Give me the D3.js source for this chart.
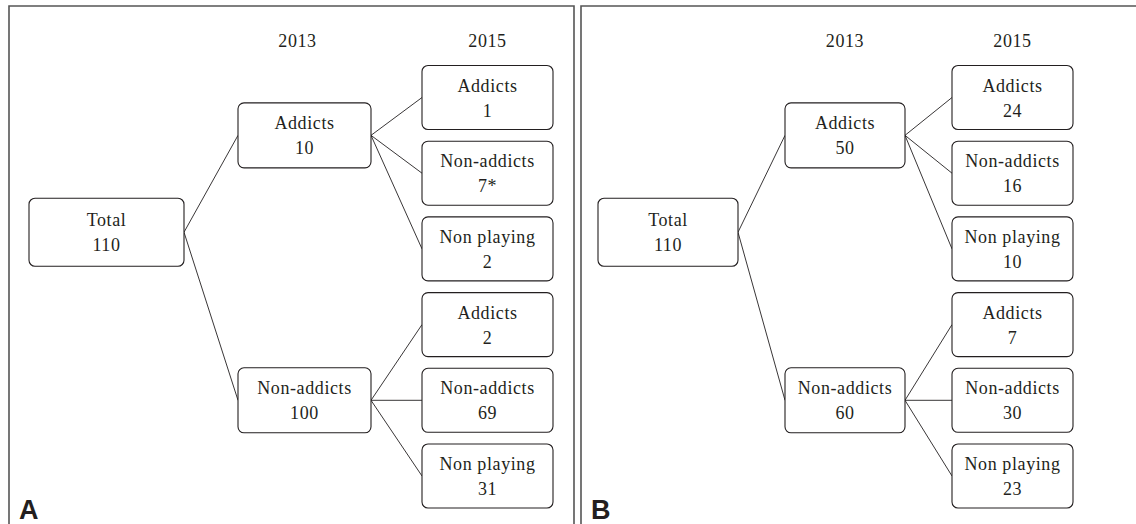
<!DOCTYPE html>
<html>
  <head>
    <script src="https://cdnjs.cloudflare.com/ajax/libs/d3/7.8.5/d3.min.js"></script>
    <style>
      body { margin: 0; background: #fff; }
      .box { fill: #fff; stroke: #231f20; stroke-width: 1.1; }
      .link { stroke: #231f20; stroke-width: 0.9; fill: none; }
      .lbl { font-family: "Liberation Serif", "Times New Roman", serif; font-size: 18px; fill: #231f20; letter-spacing: 0.6px; }
      .panelTag { font-family: "Liberation Sans", Arial, sans-serif; font-weight: bold; font-size: 27px; fill: #231f20; }
      .frame { stroke: #555; stroke-width: 1.6; fill: none; }
    </style>
  </head>
  <body>
    <div id="vis"></div>
    <script type="text/javascript">

        var w = 1136;
        var h = 524;

        // data
        const panelNames = ["A", "B"];
        const years = ["2013", "2015"];
        const rootLabel = "Total";
        const totals = [110, 110];
        const groups2013 = ["Addicts", "Non-addicts"];
        const groups2015 = ["Addicts", "Non-addicts", "Non playing"];
        const counts2013 = [[10, 100], [50, 60]];
        const counts2015A = [["1", "7*", "2"], ["2", "69", "31"]];
        const counts2015B = [["24", "16", "10"], ["7", "30", "23"]];
        const counts2015 = [counts2015A, counts2015B];

        // layout (per panel)
        const frameX = [9, 581];
        const colX = [[29, 238, 422], [598, 785, 952]];
        const colW = [[155, 133, 131], [140, 120, 121]];
        const boxH = [68, 65, 64];
        const rootRow = 1.78;
        const row2013 = [0.5, 4];

        const svg = d3.select("#vis")
            .append("svg")
            .attr("width", w)
            .attr("height", h)
            .attr("viewBox", [0, 0, w, h]);

        // rows of the 2015 column -> vertical centre
        var yScale = d3.scaleLinear().domain([0, 5]).range([97.5, 476]);

        // frames
        svg.append("path").attr("class", "frame")
            .attr("d", `M${frameX[0]},${h} V6 H574 V${h}`);
        svg.append("path").attr("class", "frame")
            .attr("d", `M${frameX[1]},${h} V6 H${w}`);

        function box(g, x, cy, bw, bh, lines) {
            g.append("rect").attr("class", "box")
                .attr("x", x).attr("y", cy - bh / 2)
                .attr("width", bw).attr("height", bh)
                .attr("rx", 6).attr("ry", 6);
            var t = g.append("text").attr("class", "lbl").attr("text-anchor", "middle");
            t.append("tspan").attr("x", x + bw / 2).attr("y", cy - 6).text(lines[0]);
            t.append("tspan").attr("x", x + bw / 2).attr("y", cy + 19).text(lines[1]);
        }

        function link(g, x1, y1, x2, y2) {
            g.append("line").attr("class", "link")
                .attr("x1", x1).attr("y1", y1).attr("x2", x2).attr("y2", y2);
        }

        panelNames.forEach((p, pi) => {
            var g = svg.append("g").attr("id", "panel" + p);
            var cx = colX[pi], cw = colW[pi];

            // year headers
            years.forEach((yr, yi) => {
                g.append("text").attr("class", "lbl").attr("text-anchor", "middle")
                    .attr("x", cx[yi + 1] + cw[yi + 1] / 2 - (pi == 0 && yi == 0 ? 7 : 0))
                    .attr("y", 47)
                    .text(yr);
            });

            var rootY = yScale(rootRow);
            groups2013.forEach((grp, gi) => {
                var y1 = yScale(row2013[gi]);
                link(g, cx[0] + cw[0], rootY, cx[1], y1);
                groups2015.forEach((sub, si) => {
                    var y2 = yScale(gi * 3 + si);
                    link(g, cx[1] + cw[1], y1, cx[2], y2);
                });
            });

            box(g, cx[0], rootY, cw[0], boxH[0], [rootLabel, totals[pi]]);
            groups2013.forEach((grp, gi) => {
                var y1 = yScale(row2013[gi]);
                box(g, cx[1], y1, cw[1], boxH[1], [grp, counts2013[pi][gi]]);
                groups2015.forEach((sub, si) => {
                    box(g, cx[2], yScale(gi * 3 + si), cw[2], boxH[2], [sub, counts2015[pi][gi][si]]);
                });
            });

            g.append("text").attr("class", "panelTag")
                .attr("x", frameX[pi] + 10).attr("y", 519)
                .text(p);
        });

    </script>
  </body>
</html>
